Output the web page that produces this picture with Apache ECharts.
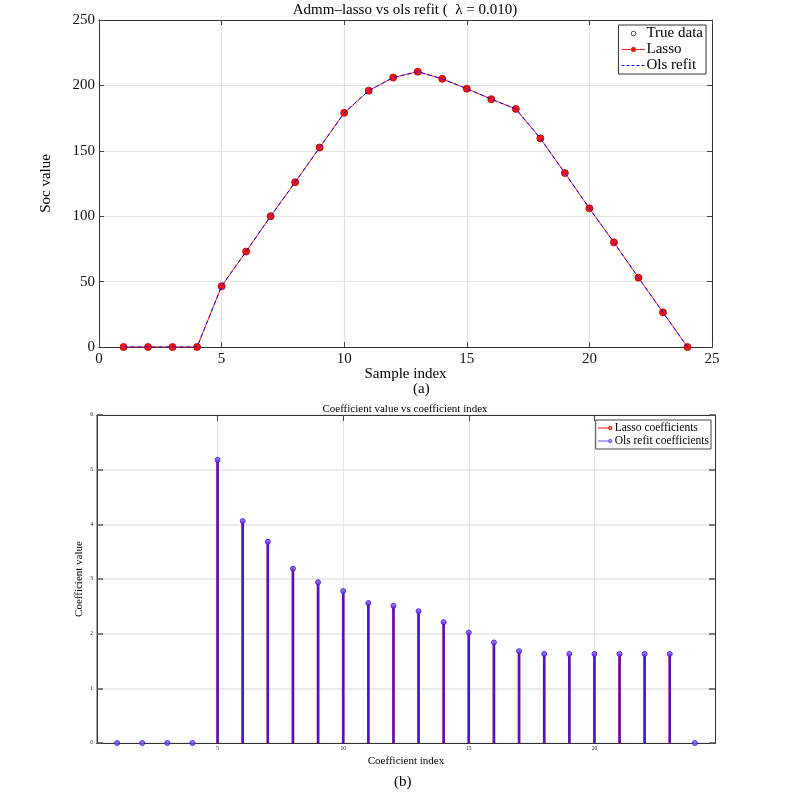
<!DOCTYPE html>
<html>
<head>
<meta charset="utf-8">
<script src="https://cdn.jsdelivr.net/npm/echarts@6/dist/echarts.min.js"></script>
<style>
  html, body { margin: 0; padding: 0; background: #fff; }
  #chart { width: 793px; height: 797px; }
</style>
</head>
<body>
<div id="chart"></div>
<script>
// top panel: samples
const sampleIdx = [1, 2, 3, 4, 5, 6, 7, 8, 9, 10, 11, 12, 13, 14, 15, 16, 17, 18, 19, 20, 21, 22, 23, 24]
const trueData = [0, 0.8, 3, 20, 46.5, 73, 100, 126, 152.5, 179, 196, 206, 210.5, 205, 197.5, 189.5, 182, 159.5, 133, 106, 80, 53, 26.5, 0]
const lassoFit = [0, 0, 0, 0, 46.5, 73, 100, 126, 152.5, 179, 196, 206, 210.5, 205, 197.5, 189.5, 182, 159.5, 133, 106, 80, 53, 26.5, 0]
const olsFit = [0, 0, 0, 0, 46.5, 73, 100, 126, 152.5, 179, 196, 206, 210.5, 205, 197.5, 189.5, 182, 159.5, 133, 106, 80, 53, 26.5, 0]

// bottom panel: coefficients
const coefIdx = [1, 2, 3, 4, 5, 6, 7, 8, 9, 10, 11, 12, 13, 14, 15, 16, 17, 18, 19, 20, 21, 22, 23, 24]
const lassoCoef = [0, 0, 0, 0, 5.18, 4.06, 3.68, 3.19, 2.94, 2.78, 2.56, 2.51, 2.41, 2.21, 2.02, 1.84, 1.68, 1.63, 1.63, 1.63, 1.63, 1.63, 1.63, 0]
const olsCoef = [0, 0, 0, 0, 5.18, 4.06, 3.68, 3.19, 2.94, 2.78, 2.56, 2.51, 2.41, 2.21, 2.02, 1.84, 1.68, 1.63, 1.63, 1.63, 1.63, 1.63, 1.63, 0]

const botXTicks = [5, 10, 15, 20]

const FONT = 'Liberation Serif'

function pairs(xs, ys) {
  return xs.map((x, i) => [x, ys[i]])
}

function svgIcon(w, h, body) {
  const svg = "<svg xmlns='http://www.w3.org/2000/svg' width='" + w + "' height='" + h + "'>" + body + "</svg>"
  return 'image://data:image/svg+xml;charset=utf-8,' + encodeURIComponent(svg)
}

const icons = {
  trueData: svgIcon(24, 10, "<circle cx='12' cy='5' r='2.3' fill='white' stroke='#222' stroke-width='1'/>"),
  lasso: svgIcon(24, 10, "<line x1='0' y1='5' x2='24' y2='5' stroke='#ff2020' stroke-width='1'/><circle cx='12' cy='5' r='2.2' fill='#ff1010' stroke='#b00000' stroke-width='0.6'/>"),
  ols: svgIcon(24, 10, "<line x1='0' y1='5' x2='24' y2='5' stroke='#0000ff' stroke-width='1' stroke-dasharray='3,2'/>"),
  lassoCoef: svgIcon(15, 8, "<line x1='0' y1='4' x2='12' y2='4' stroke='#ff0000' stroke-width='1'/><circle cx='12.6' cy='4' r='1.7' fill='#ff8080' stroke='#ff0000' stroke-width='1'/>"),
  olsCoef: svgIcon(15, 8, "<line x1='0' y1='4' x2='12' y2='4' stroke='#2020ff' stroke-width='1'/><circle cx='12.6' cy='4' r='1.7' fill='#8080ff' stroke='#2020ff' stroke-width='1'/>")
}

// axes that only draw a frame line with ticks pointing into the plot;
// placed on the opposite side and shifted across the grid by a negative offset
function tickAxis(grid, pos, offset, range, tickStyle, tickValues) {
  const tick = Object.assign({ show: true, inside: false, length: 5, lineStyle: { color: '#444', width: 1 } }, tickStyle)
  if (tickValues) tick.customValues = tickValues
  return Object.assign({
    type: 'value',
    gridIndex: grid,
    position: pos,
    offset: offset,
    axisLine: { show: true, onZero: false, lineStyle: { color: '#333', width: 1 } },
    axisTick: tick,
    axisLabel: { show: false },
    splitLine: { show: false }
  }, range)
}

const TOP_W = 613, TOP_H = 327
const BOT_W = 618, BOT_H = 328

const topX = { min: 0, max: 25, interval: 5 }
const topY = { min: 0, max: 250, interval: 50 }
const botX = { min: 0.2, max: 24.8 }
const botY = { min: 0, max: 6, interval: 1 }

const chart = echarts.init(document.getElementById('chart'), null, { renderer: 'canvas' })

chart.setOption({
  animation: false,
  backgroundColor: '#fff',
  textStyle: { fontFamily: FONT },
  title: [
    {
      text: 'Admm\u2013lasso vs ols refit (  \u03bb = 0.010)',
      left: 405, top: 3, padding: 0, textAlign: 'center',
      textStyle: { fontFamily: FONT, fontSize: 15, fontWeight: 'normal', color: '#000' }
    },
    {
      text: 'Coefficient value vs coefficient index',
      left: 405, top: 404, padding: 0, textAlign: 'center',
      textStyle: { fontFamily: FONT, fontSize: 11, fontWeight: 'normal', color: '#000' }
    }
  ],
  graphic: [
    { type: 'text', left: 413, top: 382, style: { text: '(a)', font: '15px "Liberation Serif"', fill: '#000' } },
    { type: 'text', left: 394, top: 775, style: { text: '(b)', font: '15px "Liberation Serif"', fill: '#000' } }
  ],
  legend: [
    {
      orient: 'vertical',
      right: 87, top: 25,
      align: 'left',
      backgroundColor: '#fff',
      borderColor: '#333', borderWidth: 1, borderRadius: 0,
      padding: [1, 3, 1, 3],
      itemGap: 1, itemWidth: 24, itemHeight: 10,
      textStyle: { fontFamily: FONT, fontSize: 15, color: '#000', padding: [0, 0, 0, -4] },
      data: [
        { name: 'True data', icon: icons.trueData },
        { name: 'Lasso', icon: icons.lasso },
        { name: 'Ols refit', icon: icons.ols }
      ]
    },
    {
      orient: 'vertical',
      right: 82, top: 420,
      align: 'left',
      backgroundColor: '#fff',
      borderColor: '#444', borderWidth: 1, borderRadius: 0,
      padding: [2, 2, 2, 2],
      itemGap: 1, itemWidth: 15, itemHeight: 8,
      textStyle: { fontFamily: FONT, fontSize: 11.5, color: '#000', padding: [0, 0, 0, -3] },
      data: [
        { name: 'Lasso coefficients', icon: icons.lassoCoef },
        { name: 'Ols refit coefficients', icon: icons.olsCoef }
      ]
    }
  ],
  grid: [
    { left: 99, top: 20, width: TOP_W, height: TOP_H },
    { left: 97, top: 415, width: BOT_W, height: BOT_H }
  ],
  xAxis: [
    // 0: top panel, labels + grid
    Object.assign({
      type: 'value', gridIndex: 0, position: 'bottom',
      name: 'Sample index', nameLocation: 'middle', nameGap: 20, nameMoveOverlap: false,
      nameTextStyle: { fontFamily: FONT, fontSize: 15, color: '#000' },
      axisLine: { show: true, onZero: false, lineStyle: { color: '#333' } },
      axisTick: { show: false },
      axisLabel: { fontFamily: FONT, fontSize: 15, color: '#111', margin: 5 },
      splitLine: { show: true, lineStyle: { color: '#e2e2e2', width: 1.2 } }
    }, topX),
    tickAxis(0, 'top', -TOP_H, topX),     // ticks rising from bottom edge
    tickAxis(0, 'bottom', -TOP_H, topX),  // top frame, ticks hanging down
    // 3: bottom panel, labels + grid
    Object.assign({
      type: 'value', gridIndex: 1, position: 'bottom',
      name: 'Coefficient index', nameLocation: 'middle', nameGap: 13, nameMoveOverlap: false,
      nameTextStyle: { fontFamily: FONT, fontSize: 11, color: '#000' },
      axisLine: { show: true, onZero: false, lineStyle: { color: '#222' } },
      axisTick: { show: false },
      axisLabel: { fontFamily: FONT, fontSize: 5.5, color: '#111', margin: 3, customValues: botXTicks },
      splitLine: { show: true, lineStyle: { color: '#e4e4e4', width: 1.2 } }
    }, botX),
    tickAxis(1, 'top', -BOT_H, botX, { length: 6 }, botXTicks),
    tickAxis(1, 'bottom', -BOT_H, botX, { length: 6 }, botXTicks)
  ],
  yAxis: [
    // 0: top panel, labels + grid
    Object.assign({
      type: 'value', gridIndex: 0, position: 'left',
      name: 'Soc value', nameLocation: 'middle', nameGap: 45, nameMoveOverlap: false,
      nameTextStyle: { fontFamily: FONT, fontSize: 15, color: '#000' },
      axisLine: { show: true, onZero: false, lineStyle: { color: '#333' } },
      axisTick: { show: false },
      axisLabel: { fontFamily: FONT, fontSize: 15, color: '#111', margin: 4 },
      splitLine: { show: true, lineStyle: { color: '#e2e2e2', width: 1.2 } }
    }, topY),
    tickAxis(0, 'right', -TOP_W, topY),  // ticks into plot from left edge
    tickAxis(0, 'left', -TOP_W, topY),   // right frame, ticks pointing left
    // 3: bottom panel, labels + grid
    Object.assign({
      type: 'value', gridIndex: 1, position: 'left',
      name: 'Coefficient value', nameLocation: 'middle', nameGap: 12, nameMoveOverlap: false,
      nameTextStyle: { fontFamily: FONT, fontSize: 11, color: '#000' },
      axisLine: { show: true, onZero: false, lineStyle: { color: '#888', width: 1.5 } },
      axisTick: { show: false },
      axisLabel: { fontFamily: FONT, fontSize: 5.5, color: '#111', margin: 4 },
      splitLine: { show: true, lineStyle: { color: '#e4e4e4', width: 1.5 } }
    }, botY),
    tickAxis(1, 'right', -BOT_W, botY, { length: 6, lineStyle: { color: '#555', width: 1.5 } }),
    tickAxis(1, 'left', -BOT_W, botY, { length: 6, lineStyle: { color: '#555', width: 1.5 } })
  ],
  series: [
    {
      name: 'True data',
      type: 'scatter',
      xAxisIndex: 0, yAxisIndex: 0,
      data: pairs(sampleIdx, trueData),
      symbol: 'emptyCircle',
      symbolSize: 5,
      itemStyle: { color: '#fff', borderColor: '#222', borderWidth: 1 },
      z: 2
    },
    {
      name: 'Lasso',
      type: 'line',
      xAxisIndex: 0, yAxisIndex: 0,
      data: pairs(sampleIdx, lassoFit),
      symbol: 'circle',
      symbolSize: 7,
      showAllSymbol: true,
      lineStyle: { color: '#ff2020', width: 1 },
      itemStyle: { color: '#ff1010', borderColor: '#a00000', borderWidth: 0.8 },
      z: 3
    },
    {
      name: 'Ols refit',
      type: 'line',
      xAxisIndex: 0, yAxisIndex: 0,
      data: pairs(sampleIdx, olsFit),
      symbol: 'none',
      lineStyle: { color: '#0000ff', width: 1, type: [4, 3] },
      itemStyle: { color: '#0000ff' },
      z: 4
    },
    {
      name: 'Lasso coefficients',
      type: 'bar',
      xAxisIndex: 3, yAxisIndex: 3,
      data: pairs(coefIdx, lassoCoef),
      barWidth: 2.5,
      barGap: '-100%',
      itemStyle: { color: '#ff0000' },
      z: 2
    },
    {
      name: 'Ols refit coefficients',
      type: 'bar',
      xAxisIndex: 3, yAxisIndex: 3,
      data: pairs(coefIdx, olsCoef),
      barWidth: 2.5,
      barGap: '-100%',
      itemStyle: { color: '#1a1aff', opacity: 0.76 },
      z: 3
    },
    {
      name: 'coef markers',
      type: 'scatter',
      xAxisIndex: 3, yAxisIndex: 3,
      data: pairs(coefIdx, olsCoef),
      symbol: 'circle',
      symbolSize: 5,
      itemStyle: { color: '#8a4af0', borderColor: '#2a1ae0', borderWidth: 1 },
      z: 5
    }
  ]
})
</script>
</body>
</html>
